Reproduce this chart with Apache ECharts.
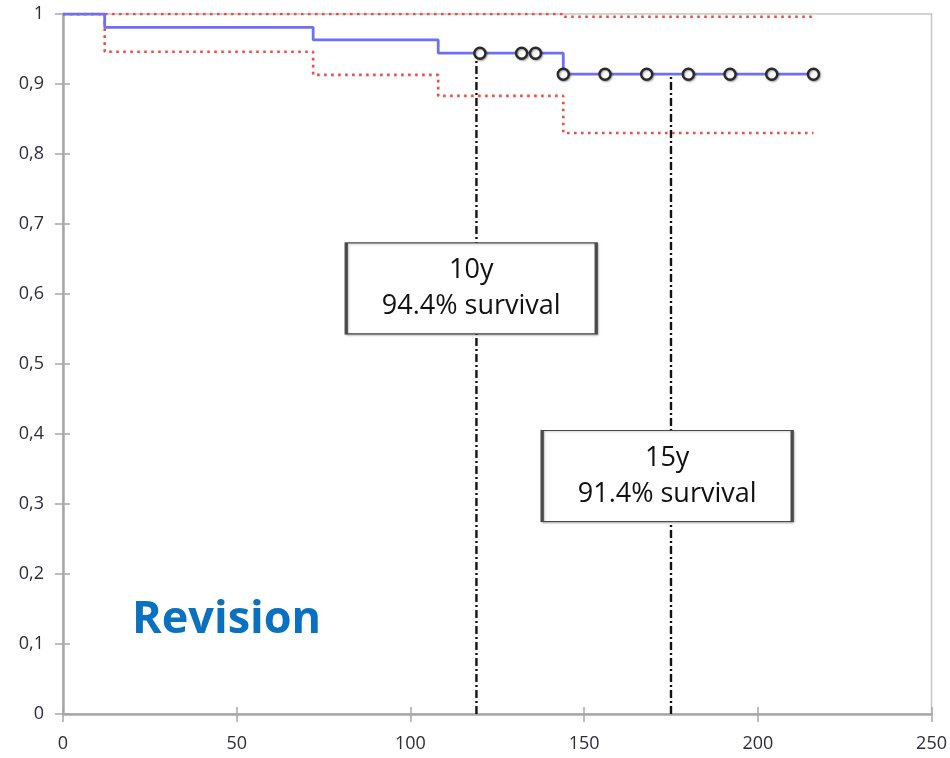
<!DOCTYPE html>
<html>
<head>
<meta charset="utf-8">
<script src="https://cdn.jsdelivr.net/npm/echarts@6/dist/echarts.min.js"></script>
<style>
html,body{margin:0;padding:0;background:#fff;}
#chart{width:950px;height:758px;}
</style>
</head>
<body>
<div id="chart"></div>
<script>
// Kaplan-Meier survival estimate (months, survival)
var kmTimes   = [0, 12, 72, 108, 144, 216];
var kmSurv    = [1, 0.981, 0.963, 0.944, 0.914, 0.914];
// Upper confidence bound
var upperTimes = [0, 144, 216];
var upperSurv  = [1, 0.996, 0.996];
// Lower confidence bound
var lowerTimes = [0, 12, 72, 108, 144, 216];
var lowerSurv  = [1, 0.946, 0.913, 0.883, 0.830, 0.830];
// Censored observations
var censorTimes = [120, 132, 136, 144, 156, 168, 180, 192, 204, 216];
var censorSurv  = [0.944, 0.944, 0.944, 0.914, 0.914, 0.914, 0.914, 0.914, 0.914, 0.914];
// Reference (dash-dot) lines at 10y and 15y
var refTimes = [119, 175];
var refTops  = [0.94, 0.913];
// Annotation boxes
var boxLines1 = ['10y', '15y'];
var boxLines2 = ['94.4% survival', '91.4% survival'];
var boxX = [117.5, 173.9];
var boxY = [0.608, 0.34];
// Axis ticks
var xTicks = [0, 50, 100, 150, 200, 250];
var yTicks = [0, 0.1, 0.2, 0.3, 0.4, 0.5, 0.6, 0.7, 0.8, 0.9, 1];

function zip(a, b) { return a.map(function (v, i) { return [v, b[i]]; }); }

var chart = echarts.init(document.getElementById('chart'), null, {renderer: 'canvas'});

var fontMain = '"Open Sans", "Liberation Sans", sans-serif';
var labelColor = '#2c2c38';

var series = [
  {
    type: 'line', name: 'upper', step: 'end', symbol: 'none',
    data: zip(upperTimes, upperSurv),
    lineStyle: {color: '#f04a48', width: 2.6, type: [2.6, 4.4]}, z: 3
  },
  {
    type: 'line', name: 'lower', step: 'end', symbol: 'none',
    data: zip(lowerTimes, lowerSurv),
    lineStyle: {color: '#f04a48', width: 2.6, type: [2.6, 4.4]}, z: 3
  },
  {
    type: 'line', name: 'km', step: 'end', symbol: 'none',
    data: zip(kmTimes, kmSurv),
    lineStyle: {color: '#6f6ff5', width: 2.8}, z: 4
  }
];
refTimes.forEach(function (t, i) {
  series.push({
    type: 'line', symbol: 'none',
    data: [[t, 0], [t, refTops[i]]],
    lineStyle: {color: '#111', width: 2.4, type: [8, 3, 2, 3]}, z: 2
  });
});
series.push({
  type: 'scatter', symbol: 'circle', symbolSize: 11,
  data: zip(censorTimes, censorSurv),
  itemStyle: {color: '#fff', borderColor: '#2a2a2a', borderWidth: 2.4, opacity: 1,
              shadowColor: 'rgba(0,0,0,0.35)', shadowBlur: 2, shadowOffsetX: 1, shadowOffsetY: 1},
  z: 6
});
series.push({
  type: 'scatter', symbol: 'rect', symbolSize: [250, 91],
  data: boxX.map(function (x, i) { return {value: [x, boxY[i]]}; }),
  itemStyle: {color: '#ffffff', borderColor: '#4a4a4a', borderWidth: 2, opacity: 1,
              shadowColor: 'rgba(0,0,0,0.25)', shadowBlur: 2, shadowOffsetX: 1, shadowOffsetY: 1},
  label: {
    show: true, position: 'inside',
    formatter: function (p) { return boxLines1[p.dataIndex] + '\n' + boxLines2[p.dataIndex]; },
    fontFamily: fontMain, fontSize: 27, lineHeight: 36, color: '#111', align: 'center'
  },
  emphasis: {disabled: true},
  zlevel: 1,
  z: 10
});

var option = {
  animation: false,
  backgroundColor: '#fff',
  title: {
    text: 'Revision', left: 127, top: 590,
    textStyle: {fontFamily: fontMain, fontWeight: 'bold', fontSize: 45, color: '#0a70c0', lineHeight: 50}
  },
  grid: {left: 63, right: 17, top: 14, bottom: 44, show: true, borderColor: '#c4c4c4', borderWidth: 1.5, backgroundColor: 'transparent'},
  xAxis: [
    {
      type: 'value', min: xTicks[0], max: xTicks[xTicks.length - 1], interval: 50,
      axisLine: {show: true, lineStyle: {color: '#a8a8a8', width: 2.5}},
      axisTick: {show: true, length: 8, lineStyle: {color: '#a8a8a8', width: 1.5}},
      axisLabel: {fontFamily: fontMain, fontSize: 18, color: labelColor, margin: 21},
      splitLine: {show: false}
    },
    {
      type: 'value', min: xTicks[0], max: xTicks[xTicks.length - 1], interval: 50, position: 'bottom',
      axisLine: {show: false},
      axisTick: {show: true, inside: true, length: 7, lineStyle: {color: '#a8a8a8', width: 1.5}},
      axisLabel: {show: false}, splitLine: {show: false}
    }
  ],
  yAxis: [
    {
      type: 'value', min: yTicks[0], max: yTicks[yTicks.length - 1], interval: 0.1,
      axisLine: {show: true, lineStyle: {color: '#a8a8a8', width: 2.5}},
      axisTick: {show: true, length: 8, lineStyle: {color: '#a8a8a8', width: 1.5}},
      axisLabel: {fontFamily: fontMain, fontSize: 18, color: labelColor, margin: 19,
                  formatter: function (v) { return String(Math.round(v * 10) / 10).replace('.', ','); }},
      splitLine: {show: false}
    },
    {
      type: 'value', min: yTicks[0], max: yTicks[yTicks.length - 1], interval: 0.1, position: 'left',
      axisLine: {show: false},
      axisTick: {show: true, inside: true, length: 7, lineStyle: {color: '#a8a8a8', width: 1.5}},
      axisLabel: {show: false}, splitLine: {show: false}
    }
  ],
  series: series
};
chart.setOption(option);
</script>
</body>
</html>
